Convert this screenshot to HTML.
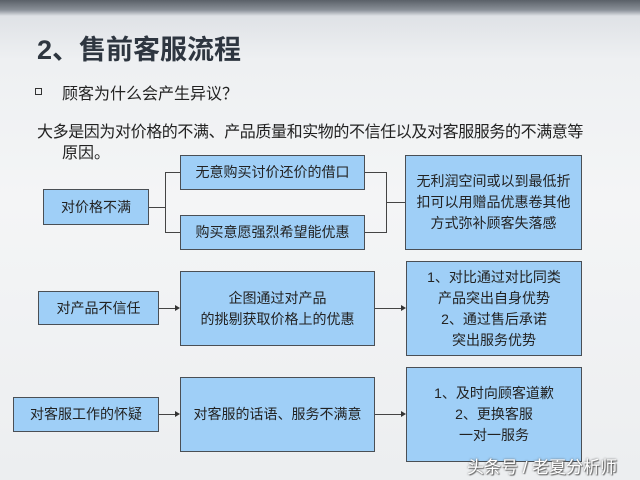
<!DOCTYPE html>
<html><head><meta charset="utf-8"><style>
body{margin:0;width:640px;height:480px;overflow:hidden;position:relative;font-family:"Liberation Sans","Noto Sans CJK SC",sans-serif;background:linear-gradient(180deg,#5a6068 0px,#8a9098 10px,#dfe2e6 16px,#eef0f2 60px,#f4f5f6 200px,#eceef0 480px);}
.t{position:absolute;white-space:nowrap;color:#222;}
.b{position:absolute;background:#9fcff7;border:1px solid #4a4f55;box-sizing:border-box;display:flex;align-items:center;justify-content:center;text-align:center;font-size:14px;line-height:21px;color:#222;}
.l{position:absolute;background:#444;}
.a{position:absolute;width:0;height:0;border-top:3px solid transparent;border-bottom:3px solid transparent;border-left:5px solid #333;}
</style></head><body>
<div class="t" style="left:37px;top:28px;font-size:27px;font-weight:bold;color:#2e3640">2、售前客服流程</div>
<div class="t" style="left:35px;top:88px;width:5px;height:5px;border:1px solid #333;"></div>
<div class="t" style="left:62px;top:80px;font-size:16px;">顾客为什么会产生异议？</div>
<div class="t" style="left:37px;top:118px;font-size:16px;letter-spacing:-0.4px;">大多是因为对价格的不满、产品质量和实物的不信任以及对客服服务的不满意等</div>
<div class="t" style="left:62px;top:139px;font-size:16px;">原因。</div>

<div class="b" style="left:43px;top:189px;width:106px;height:36px">对价格不满</div>
<div class="b" style="left:180px;top:155px;width:185px;height:35px">无意购买讨价还价的借口</div>
<div class="b" style="left:180px;top:215px;width:185px;height:35px">购买意愿强烈希望能优惠</div>
<div class="b" style="left:405px;top:155px;width:177px;height:95px">无利润空间或以到最低折<br>扣可以用赠品优惠卷其他<br>方式弥补顾客失落感</div>
<div class="l" style="left:149px;top:207px;width:16px;height:1px"></div>
<div class="l" style="left:165px;top:172px;width:1px;height:61px"></div>
<div class="l" style="left:165px;top:172px;width:15px;height:1px"></div>
<div class="l" style="left:165px;top:232px;width:15px;height:1px"></div>
<div class="l" style="left:365px;top:172px;width:21px;height:1px"></div>
<div class="l" style="left:365px;top:232px;width:21px;height:1px"></div>
<div class="l" style="left:386px;top:172px;width:1px;height:61px"></div>
<div class="l" style="left:386px;top:202px;width:19px;height:1px"></div>

<div class="b" style="left:38px;top:291px;width:121px;height:34px">对产品不信任</div>
<div class="b" style="left:180px;top:271px;width:195px;height:75px">企图通过对产品<br>的挑剔获取价格上的优惠</div>
<div class="b" style="left:406px;top:261px;width:176px;height:95px">1、对比通过对比同类<br>产品突出自身优势<br>2、通过售后承诺<br>突出服务优势</div>
<div class="l" style="left:159px;top:308px;width:16px;height:1px"></div><div class="a" style="left:175px;top:305px"></div>
<div class="l" style="left:375px;top:308px;width:26px;height:1px"></div><div class="a" style="left:401px;top:305px"></div>

<div class="b" style="left:13px;top:397px;width:146px;height:35px">对客服工作的怀疑</div>
<div class="b" style="left:180px;top:377px;width:195px;height:75px">对客服的话语、服务不满意</div>
<div class="b" style="left:406px;top:367px;width:176px;height:95px">1、及时向顾客道歉<br>2、更换客服<br>一对一服务</div>
<div class="l" style="left:159px;top:414px;width:16px;height:1px"></div><div class="a" style="left:175px;top:411px"></div>
<div class="l" style="left:375px;top:414px;width:26px;height:1px"></div><div class="a" style="left:401px;top:411px"></div>

<div class="t" style="left:467px;top:453px;font-size:17px;color:#fff;text-shadow:0 0 2px #555,1px 1px 1px #666;">头条号 / 老夏分析师</div>
</body></html>
